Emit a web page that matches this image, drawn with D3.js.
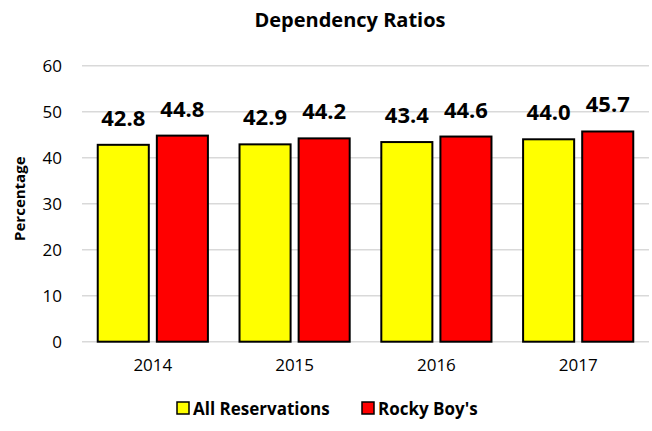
<!DOCTYPE html>
<html>
<head>
<meta charset="utf-8">
<script src="https://cdn.jsdelivr.net/npm/d3@7"></script>
<style>
    body { margin: 0; background: #fff; }
    svg { display: block; font-family: "Open Sans", "Liberation Sans", sans-serif; }
</style>
</head>
<body>
<span></span>
<script>
let width = 652;
let height = 431;

let years = ["2014", "2015", "2016", "2017"];
let seriesNames = ["All Reservations", "Rocky Boy's"];
let allReservations = [42.8, 42.9, 43.4, 44.0];
let rockyBoys = [44.8, 44.2, 44.6, 45.7];
let yTicks = [0, 10, 20, 30, 40, 50, 60];
let colors = ["#ffff00", "#ff0000"];

let plot = { left: 82, right: 649, top: 65.7, bottom: 341.7 };

let svg = d3.select("span")
    .append("svg")
    .attr("width", width)
    .attr("height", height);

let x = d3.scaleBand()
    .domain(years)
    .range([plot.left, plot.right])
    .paddingInner(0.223)
    .paddingOuter(0.111);

let xInner = d3.scaleBand()
    .domain(seriesNames)
    .range([0, x.bandwidth()])
    .paddingInner(0.136);

let y = d3.scaleLinear()
    .domain([0, 60])
    .range([plot.bottom, plot.top]);

// gridlines
svg.append("g")
    .selectAll("line")
    .data(yTicks)
    .join("line")
    .attr("x1", plot.left)
    .attr("x2", plot.right)
    .attr("y1", d => y(d))
    .attr("y2", d => y(d))
    .style("stroke", "#d9d9d9")
    .style("stroke-width", 1.5);

// y axis labels
let yAxis = svg.append("g")
    .attr("transform", `translate(${plot.left - 20},0)`)
    .call(d3.axisLeft(y).tickValues(yTicks).tickSize(0).tickPadding(0));
yAxis.select(".domain").remove();
yAxis.selectAll("text")
    .style("font-family", "'Open Sans', sans-serif")
    .style("font-size", "17px")
    .style("fill", "#000");

// x axis labels
let xAxis = svg.append("g")
    .attr("transform", `translate(0,${plot.bottom + 17})`)
    .call(d3.axisBottom(x).tickSize(0).tickPadding(0));
xAxis.select(".domain").remove();
xAxis.selectAll("text")
    .style("font-family", "'Open Sans', sans-serif")
    .style("font-size", "17px")
    .style("fill", "#000");

let rows = years.map((yr, i) => ({ year: yr, values: [allReservations[i], rockyBoys[i]] }));

let groups = svg.append("g")
    .selectAll("g")
    .data(rows)
    .join("g")
    .attr("transform", d => `translate(${x(d.year)},0)`);

groups.selectAll("rect")
    .data(d => d.values.map((v, j) => ({ name: seriesNames[j], value: v, color: colors[j] })))
    .join("rect")
    .attr("x", d => xInner(d.name))
    .attr("y", d => y(d.value))
    .attr("width", xInner.bandwidth())
    .attr("height", d => y(0) - y(d.value))
    .style("fill", d => d.color)
    .style("stroke", "#000")
    .style("stroke-width", 2);

// value labels
groups.selectAll("text")
    .data(d => d.values.map((v, j) => ({ name: seriesNames[j], value: v })))
    .join("text")
    .attr("x", d => xInner(d.name) + xInner.bandwidth() / 2)
    .attr("y", d => y(d.value) - 19)
    .attr("text-anchor", "middle")
    .style("font-size", "22px")
    .style("font-weight", "bold")
    .text(d => d.value.toFixed(1));

// title
svg.append("text")
    .attr("x", 350)
    .attr("y", 27)
    .attr("text-anchor", "middle")
    .style("font-size", "20px")
    .style("font-weight", "bold")
    .text("Dependency Ratios");

// y axis title
svg.append("text")
    .attr("transform", `translate(25,${(plot.top + plot.bottom) / 2 - 5}) rotate(-90)`)
    .attr("text-anchor", "middle")
    .style("font-size", "15px")
    .style("font-weight", "bold")
    .text("Percentage");

// legend
let legendX = [177, 362];
let legend = svg.append("g")
    .selectAll("g")
    .data(seriesNames)
    .join("g")
    .attr("transform", (d, i) => `translate(${legendX[i]},402)`);

legend.append("rect")
    .attr("width", 12)
    .attr("height", 12)
    .style("fill", (d, i) => colors[i])
    .style("stroke", "#000")
    .style("stroke-width", 1.5);

legend.append("text")
    .attr("x", 16)
    .attr("y", 12.5)
    .style("font-size", "17px")
    .style("font-weight", "bold")
    .text(d => d);
</script>
</body>
</html>
